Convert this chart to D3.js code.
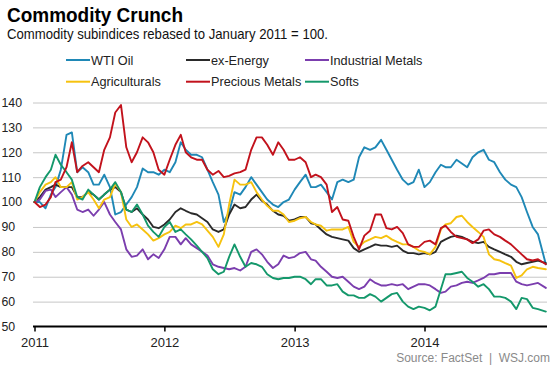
<!DOCTYPE html>
<html><head><meta charset="utf-8">
<script src="https://cdn.jsdelivr.net/npm/d3@7"></script>
<style>
body{margin:0;background:#fff}
svg{display:block}
text{font-family:"Liberation Sans",Arial,Helvetica,sans-serif}
</style>
</head><body>
<svg id="c" width="553" height="367"></svg>
<script>
// ---- data (half-monthly readings, Jan 2011 .. Dec 2014) ----
const seriesNames = ["WTI Oil","ex-Energy","Industrial Metals","Agriculturals","Precious Metals","Softs"];
const seriesColors = ["#1f88b6","#2a2a2a","#7b3eae","#f6c20f","#c2121c","#14986b"];
const yTicks = [50,60,70,80,90,100,110,120,130,140];
const xTickYears = [2011,2012,2013,2014];

const wtiOil = [100,100,97.5,103,106,113,127,128,112,114,
  112,107,107,111,106,95,96,99,102,106,
  113.5,112,112,111,113,112,116,124,121,119,
  119,118,113,108,103,92,96,104,103,106,
  110,107,104,101,99,98,100,101,105,108,
  111,106,106,107,104,101,108,109,108,109,
  118,122,121,122,125,121,117,113,109,107,
  108,113,106,108,112,115,114,114,117,115.5,
  114,118,120,121,117,116,112,109,107,106,
  102,96,90,87,75];
const exEnergy = [100,102,105,106,107,106,106,106,102,102,
  104,103,101,103,105,106,104,97,96,97.5,
  95,93,90,89.5,91,93,96,97.5,96.5,95.5,
  95,93.5,92,89,88,89,95,99,97.5,98,
  101,103,100.5,99,96.5,95,94.5,92.5,93,94,
  94,91.5,91,89,87,86,85.5,85,84.5,81.5,
  80,81,82,83,82.5,82.5,82,82.5,80.5,79.5,
  79.5,79,79.5,79,80,84,85,86,86.5,86,
  85,84,83.5,84,82,81,80,79,78,76,
  75,75.5,76,76.5,75.5];
const industrialMetals = [100,101,104.5,105,102,104,106,103,97,96,
  97,94.5,97,100,95,92,89,81,78,78.5,
  81,77,79,77.5,81,86,86,83,85.5,83,
  81.5,80,78.5,75,74,73.5,73,73.5,72.5,74,
  80,81,79,76,73.5,75,78.5,77.5,78,79.5,
  80,77,76.5,74,72,70,69.5,70,68,66,
  65,66,69,67.5,66.5,66.5,67,66.5,67,65,
  66,67,67,66.5,65,63.5,64,66,66.5,67.5,
  68,67.5,68.5,69.5,71,71,71.5,71.5,71.5,68,
  67,66.5,67,67.5,65.5];
const agriculturals = [100,104,107,108,110,106,106,108,101,102,
  104,101,97.5,101,102,107.5,104,93,90,91,
  89,87,84.5,85.5,87,88,90.5,89.5,91,91,
  92,91,88.5,86,82,87,99,109,107,107,
  108,104,101,98.5,96.5,96.5,95,92,92.5,93.5,
  94,92,91,90.5,88.5,89,89,89,90,84,
  82,84,85,86,85.5,86.5,85,84,83,83,
  82,80.5,80,79,82,89,91,91.5,94,94.5,
  92,90,88,86,79,77,76.5,75.5,74.5,69.5,
  70.5,73,74,73.5,73];
const preciousMetals = [100,98,99,102,108,109,114,124,112,114.5,
  116,114,112,121,126,136,139,122,116,120,
  126,124,120,113,111,117,123,127,120,118,
  117,117,113,111,112.5,110,110.5,111.5,112,113,
  121,126,126,123,119,124,121,117,117,118,
  116,110,111,110,107,96,98,93,92.5,86,
  81,86.5,88.5,95,95,89.5,89,90,87.5,83,
  82,82,84,84.5,83,89.5,90.5,88,86,85.5,
  85,83.5,85,88.5,89,87,86,84.5,83,81,
  79,77,76.5,77,75];
const softs = [100,106,110,113,119,115,112,109,102,101,
  105,103,101,103,105,108,104,97,96,99,
  95,90.5,88,86,90,92,88,89,87,85,
  82.5,80,77.5,73,71,72,78,83,78,74,
  75.5,75,74,71,69.5,69,69.5,69.5,70,70,
  69,67,69,69,66.5,66.5,67,64,62.5,62.5,
  61.5,61.5,63,62,60,61.5,63,63.5,60,58,
  57,58,57.5,56.5,58,65,71,71,71.5,72,
  69.5,68,66,67,65,62,62,61.5,60,57,
  61.5,61,57.5,57,56];

const seriesValues = [wtiOil, exEnergy, industrialMetals, agriculturals, preciousMetals, softs];

// sample dates: 1st and 16th of each month, last reading early December 2014
const dates = [];
for (let k = 0; k < 94; k++) dates.push(new Date(2011 + Math.floor(k / 24), Math.floor((k % 24) / 2), k % 2 ? 16 : 1));
dates.push(new Date(2014, 11, 8));

// ---- chart ----
const svg = d3.select("#c");
const x = d3.scaleTime().domain([new Date(2011,0,1), new Date(2014,0,1)]).range([34.5, 424.5]);
const y = d3.scaleLinear().domain([50,140]).range([326.5, 102.5]);
const plotLeft = 33, plotRight = 547;

// title
svg.append("text").attr("x",7).attr("y",21.5).attr("font-size",20).attr("font-weight","bold")
  .attr("fill","#000").attr("textLength",176).attr("lengthAdjust","spacingAndGlyphs").text("Commodity Crunch");
svg.append("text").attr("x",7).attr("y",39.3).attr("font-size",14.3).attr("fill","#111")
  .attr("textLength",321).attr("lengthAdjust","spacingAndGlyphs")
  .text("Commodity subindices rebased to January 2011 = 100.");

// legend
const legCols = [66,186,305];
const legRows = [60,81.7];
seriesNames.forEach((name,i) => {
  const cx = legCols[i % 3], cy = legRows[Math.floor(i / 3)];
  svg.append("line").attr("x1",cx).attr("x2",cx+24).attr("y1",cy).attr("y2",cy)
    .attr("stroke",seriesColors[i]).attr("stroke-width",2);
  svg.append("text").attr("x",cx+25).attr("y",cy+4.7).attr("font-size",12.7).attr("fill","#222")
    .text(name);
});

// gridlines
const grid = svg.append("g").attr("transform",`translate(${plotLeft},0)`)
  .call(d3.axisRight(y).tickValues(yTicks.filter(v => v !== 50)).tickSize(plotRight - plotLeft).tickFormat(""));
grid.select(".domain").remove();
grid.selectAll("line").attr("stroke","#c6c6c6").attr("stroke-width",1);

// y labels
svg.append("g").selectAll("text").data(yTicks).join("text")
  .attr("x",1.5).attr("y",d => y(d)).attr("dy","0.36em").attr("font-size",12.3).attr("fill","#222")
  .text(d => d);

// lines
const lineGen = d3.line().x((d,i) => x(dates[i])).y(d => y(d)).curve(d3.curveLinear);
const order = [0,1,2,3,5,4];
order.forEach(i => {
  svg.append("path").datum(seriesValues[i]).attr("d",lineGen)
    .attr("fill","none").attr("stroke",seriesColors[i]).attr("stroke-width",1.9)
    .attr("stroke-linejoin","round").attr("stroke-linecap","round");
});

// x axis
const xAxis = svg.append("g").attr("transform",`translate(0,${y(50)})`)
  .call(d3.axisBottom(x).tickValues(xTickYears.map(yr => new Date(yr,0,1))).tickSize(5).tickFormat(d3.timeFormat("%Y")));
xAxis.select(".domain").remove();
xAxis.selectAll(".tick line").attr("stroke","#000").attr("stroke-width",1.5);
xAxis.selectAll(".tick text").attr("y",20).attr("dy",0).attr("font-size",13).attr("fill","#222")
  .attr("font-family","Liberation Sans, Arial, sans-serif");
svg.append("line").attr("x1",plotLeft).attr("x2",plotRight).attr("y1",y(50)).attr("y2",y(50))
  .attr("stroke","#000").attr("stroke-width",2);

// source
svg.append("text").attr("x",550).attr("y",361.5).attr("text-anchor","end").attr("font-size",12)
  .attr("fill","#8a8a8a").text("Source: FactSet  |  WSJ.com").attr("xml:space","preserve").style("white-space","pre");
</script>
</body></html>
